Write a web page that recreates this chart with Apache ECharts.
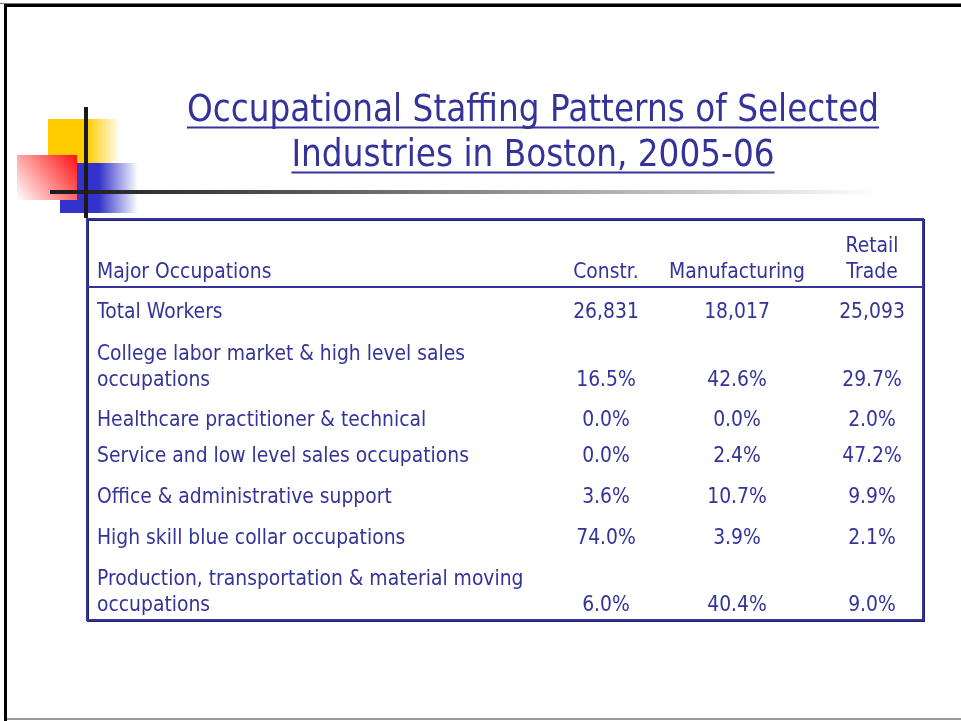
<!DOCTYPE html>
<html>

<head>
    <meta charset="UTF-8">
    <title>Occupational Staffing Patterns</title>
    <script src="https://cdn.jsdelivr.net/npm/echarts@6/dist/echarts.min.js"></script>
    <style>
        html, body {
            margin: 0;
            padding: 0;
            background: #ffffff;
        }

        #main {
            width: 961px;
            height: 721px;
        }
    </style>
</head>

<body>
    <div id="main"></div>
</body>
<script>
    // data
    var titleLines = ['Occupational Staffing Patterns of Selected', 'Industries in Boston, 2005-06'];
    var headerFirst = 'Major Occupations';
    var industries = ['Constr.', 'Manufacturing', 'Retail\nTrade'];
    var occupations = [
        'Total Workers',
        'College labor market & high level sales\noccupations',
        'Healthcare practitioner & technical',
        'Service and low level sales occupations',
        'Office & administrative support',
        'High skill blue collar occupations',
        'Production, transportation & material moving\noccupations'
    ];
    var totalWorkers = [26831, 18017, 25093];
    // shares (%) for the occupation rows after "Total Workers"
    var constrShare = [16.5, 0.0, 0.0, 3.6, 74.0, 6.0];
    var manufShare = [42.6, 0.0, 2.4, 10.7, 3.9, 40.4];
    var retailShare = [29.7, 2.0, 47.2, 9.9, 2.1, 9.0];

    var ink = '#333399';
    var font = 'DejaVu Sans';
    var titleSx = 0.885;
    var bodySx = 0.915;
    var colX = [606, 737, 872];
    // space between the last line of a row and the first line of the next
    var rowGaps = [42, 40, 36, 41, 41, 41];

    function fmtInt(n) {
        return String(n).replace(/\B(?=(\d{3})+(?!\d))/g, ',');
    }

    function fmtPct(v) {
        return v.toFixed(1) + '%';
    }

    var measureCtx = document.createElement('canvas').getContext('2d');
    function textWidth(s, size, sx) {
        measureCtx.font = size + 'px "' + font + '"';
        return measureCtx.measureText(s).width * sx;
    }

    function txt(s, x, y, size, align, sx) {
        return {
            type: 'text',
            x: x,
            y: y,
            scaleX: sx || bodySx,
            style: {
                text: s,
                fill: ink,
                font: size + 'px "' + font + '"',
                textAlign: align || 'left',
                textVerticalAlign: 'middle'
            },
            z: 10
        };
    }

    var els = [];

    // slide frame
    els.push({ type: 'rect', shape: { x: 0, y: 3, width: 961, height: 1 }, style: { fill: '#777' } });
    els.push({ type: 'rect', shape: { x: 4, y: 4, width: 957, height: 3 }, style: { fill: '#000' } });
    els.push({ type: 'rect', shape: { x: 4, y: 4, width: 3, height: 717 }, style: { fill: '#000' } });
    els.push({ type: 'rect', shape: { x: 7, y: 718, width: 954, height: 2 }, style: { fill: '#999' } });

    // decoration
    els.push({
        type: 'rect', shape: { x: 48, y: 119, width: 72, height: 44 },
        style: { fill: new echarts.graphic.LinearGradient(0, 0, 1, 0, [
            { offset: 0, color: '#ffcc00' }, { offset: 0.55, color: '#ffcc00' }, { offset: 1, color: 'rgba(255,204,0,0)' }]) }
    });
    els.push({
        type: 'rect', shape: { x: 60, y: 163, width: 78, height: 50 },
        style: { fill: new echarts.graphic.LinearGradient(0, 0, 1, 0, [
            { offset: 0, color: '#3333cc' }, { offset: 0.5, color: '#3333cc' }, { offset: 1, color: 'rgba(51,51,204,0)' }]) }
    });
    els.push({
        type: 'rect', shape: { x: 17, y: 155, width: 60, height: 45 },
        style: { fill: new echarts.graphic.LinearGradient(1, 0, 0, 1, [
            { offset: 0, color: '#ff1010' }, { offset: 1, color: '#ffffff' }]) }
    });
    els.push({
        type: 'rect', shape: { x: 50, y: 190, width: 830, height: 4 },
        style: { fill: new echarts.graphic.LinearGradient(0, 0, 1, 0, [
            { offset: 0, color: '#1a1a1a' }, { offset: 0.3, color: '#555' }, { offset: 1, color: '#ffffff' }]) }
    });
    els.push({ type: 'rect', shape: { x: 84, y: 107, width: 4, height: 111 }, style: { fill: '#1a1a1a' } });

    // title
    var titleSize = 37;
    var titleY = [111, 156];
    titleLines.forEach(function (s, i) {
        els.push(txt(s, 533, titleY[i], titleSize, 'center', titleSx));
        var w = textWidth(s, titleSize, titleSx);
        els.push({ type: 'rect', shape: { x: 533 - w / 2, y: titleY[i] + 15.5, width: w, height: 2 }, style: { fill: ink } });
    });

    // table box
    els.push({ type: 'rect', shape: { x: 88, y: 220, width: 836, height: 401 }, style: { fill: 'none', stroke: '#222266', lineWidth: 2 } });
    els.push({ type: 'rect', shape: { x: 87, y: 219, width: 836, height: 401 }, style: { fill: 'none', stroke: ink, lineWidth: 2 } });
    els.push({ type: 'rect', shape: { x: 87, y: 286, width: 836, height: 2 }, style: { fill: ink } });

    var fs = 20.5;
    var lineH = 26;

    // header row
    var headY = 273;
    els.push(txt(headerFirst, 97, headY, fs, 'left'));
    industries.forEach(function (h, c) {
        var parts = h.split('\n');
        parts.forEach(function (p, k) {
            els.push(txt(p, colX[c], headY - (parts.length - 1 - k) * lineH, fs, 'center'));
        });
    });

    // body rows
    var y = 313;
    occupations.forEach(function (occ, r) {
        var parts = occ.split('\n');
        parts.forEach(function (p, k) {
            els.push(txt(p, 97, y + k * lineH, fs, 'left'));
        });
        var lastY = y + (parts.length - 1) * lineH;
        var vals;
        if (r === 0) {
            vals = totalWorkers.map(fmtInt);
        } else {
            vals = [constrShare[r - 1], manufShare[r - 1], retailShare[r - 1]].map(fmtPct);
        }
        vals.forEach(function (v, c) {
            els.push(txt(v, colX[c], lastY, fs, 'center'));
        });
        y = lastY + (rowGaps[r] || 41);
    });

    var chart = echarts.init(document.getElementById('main'));
    chart.setOption({
        backgroundColor: '#ffffff',
        animation: false,
        graphic: { elements: els }
    });
</script>

</html>
